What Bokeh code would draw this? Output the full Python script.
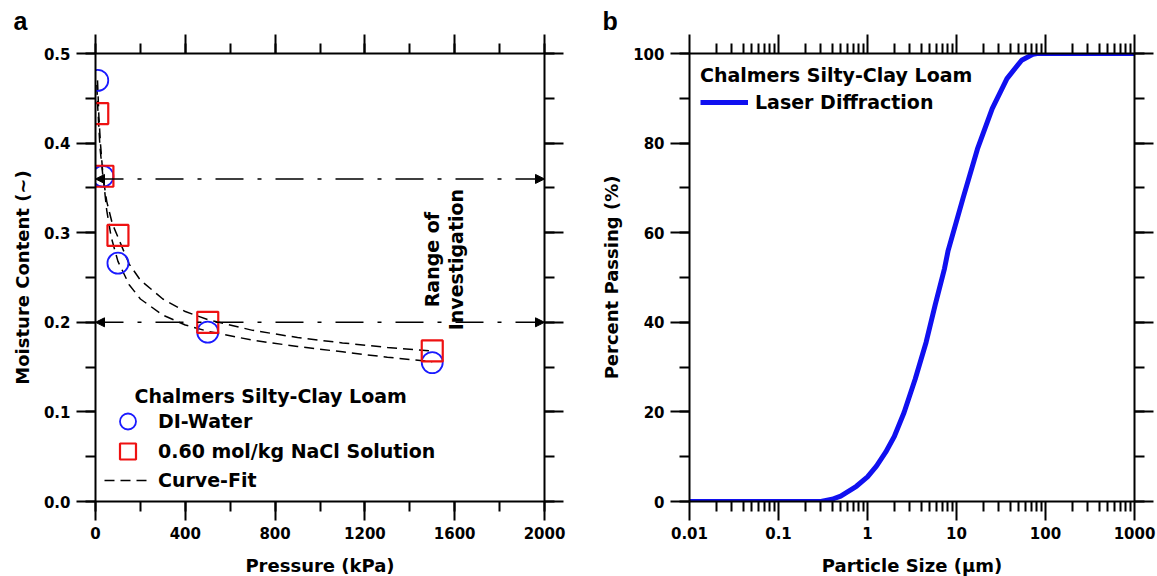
import numpy as np
from bokeh.plotting import figure
from bokeh.layouts import row
from bokeh.models import (Range1d, LinearAxis, LogAxis, SingleIntervalTicker, FixedTicker,
                          PrintfTickFormatter, CustomJSTickFormatter, Legend, LegendItem,
                          Label, Arrow, NormalHead, Grid)
from bokeh.embed import file_html
from bokeh.resources import INLINE

FONT = "DejaVu Sans"

# ---------------- data: panel a ----------------
pressure_kpa = [10, 33, 100, 500, 1500]
di_water = [0.470, 0.363, 0.266, 0.189, 0.155]
nacl_solution = [0.433, 0.363, 0.297, 0.200, 0.168]

fit_di_p = [9, 15, 22, 33, 50, 70, 100, 150, 200, 300, 400, 500, 700, 900, 1100, 1300, 1500]
fit_di_theta = [0.470, 0.430, 0.400, 0.365, 0.325, 0.295, 0.268, 0.242, 0.226, 0.208, 0.197,
                0.190, 0.180, 0.173, 0.167, 0.161, 0.156]
fit_nacl_p = [6, 10, 20, 33, 50, 75, 100, 150, 200, 300, 400, 500, 700, 900, 1100, 1300, 1500]
fit_nacl_theta = [0.465, 0.440, 0.395, 0.363, 0.335, 0.310, 0.295, 0.265, 0.247, 0.226, 0.212,
                  0.203, 0.191, 0.183, 0.177, 0.172, 0.168]

range_bounds = [0.20, 0.36]
pressure_limits = [0, 2000]

# ---------------- data: panel b ----------------
particle_size_um = [0.01, 0.05, 0.1, 0.2, 0.3, 0.4, 0.5, 0.75, 1.0, 1.26, 1.6, 2.0, 2.57, 3.43,
                    4.55, 5.78, 7.33, 8.05, 11.8, 17.2, 25.2, 36.9, 54, 72, 80, 200, 1000]
percent_passing = [0, 0, 0, 0, 0, 0.5, 1.2, 3.4, 5.5, 7.9, 11, 14.5, 19.8, 27.3,
                   35.5, 44, 52, 56, 67.6, 78.7, 87.7, 94.4, 98.5, 99.8, 100, 100, 100]

log_major = [0.01, 0.1, 1, 10, 100, 1000]
log_minor = [m * d for d in log_major[:-1] for m in range(2, 10)]


def style_axis(ax, labels=True):
    ax.axis_line_width = 2
    ax.axis_line_color = "black"
    ax.major_tick_line_width = 2
    ax.minor_tick_line_width = 2
    ax.major_tick_line_color = "black"
    ax.minor_tick_line_color = "black"
    ax.major_tick_out = 19
    ax.major_tick_in = 0
    ax.minor_tick_out = 10
    ax.minor_tick_in = 0
    ax.major_label_text_font = FONT
    ax.major_label_text_font_style = "bold"
    ax.major_label_text_font_size = "15px"
    ax.major_label_text_color = "black"
    ax.axis_label_text_font = FONT
    ax.axis_label_text_font_style = "bold"
    ax.axis_label_text_font_size = "18px"
    ax.axis_label_text_color = "black"
    if not labels:
        ax.formatter = CustomJSTickFormatter(code="return ''")
        ax.major_label_standoff = 0
        ax.major_label_text_font_size = "0px"


def hide_grids(p):
    for r in list(p.center):
        if isinstance(r, Grid):
            r.visible = False


def legend_style(**kw):
    base = dict(padding=0, margin=0, border_line_color=None, background_fill_alpha=0,
                label_text_font=FONT, label_text_font_style="bold", label_text_font_size="19px",
                label_text_color="black")
    base.update(kw)
    return base


def panel_title(p, letter, offset):
    p.title.text = letter
    p.title.text_font = "Liberation Sans"
    p.title.text_font_style = "bold"
    p.title.text_font_size = "25px"
    p.title.text_color = "black"
    p.title.align = "left"
    p.title.offset = offset
    p.title.standoff = 0


# ================= panel a =================
p1 = figure(frame_width=449, frame_height=448, min_border_left=95, min_border_right=36,
            min_border_top=53, min_border_bottom=75,
            x_range=Range1d(*pressure_limits), y_range=Range1d(0, 0.5),
            x_axis_location=None, y_axis_location=None,
            output_backend="svg", toolbar_location=None)
p1.outline_line_color = None
p1.background_fill_color = "white"
hide_grids(p1)
panel_title(p1, "a", -82)

xt = lambda: SingleIntervalTicker(interval=400, num_minor_ticks=2)
yt = lambda: SingleIntervalTicker(interval=0.1, num_minor_ticks=2)

ax_b = LinearAxis(ticker=xt(), axis_label="Pressure (kPa)")
style_axis(ax_b)
ax_b.major_label_standoff = 6
ax_b.axis_label_standoff = 13
p1.add_layout(ax_b, "below")

ax_l = LinearAxis(ticker=yt(), formatter=PrintfTickFormatter(format="%.1f"),
                  axis_label="Moisture Content (~)")
style_axis(ax_l)
ax_l.major_label_standoff = 6
ax_l.axis_label_standoff = 8
p1.add_layout(ax_l, "left")

ax_t = LinearAxis(ticker=xt())
style_axis(ax_t, labels=False)
p1.add_layout(ax_t, "above")
ax_r = LinearAxis(ticker=yt())
style_axis(ax_r, labels=False)
p1.add_layout(ax_r, "right")

# range arrows
for yb in range_bounds:
    p1.add_layout(Arrow(x_start=pressure_limits[0], y_start=yb, x_end=pressure_limits[1], y_end=yb,
                        line_width=1.5, line_color="black", line_dash="28 14 4 14",
                        start=NormalHead(size=9, fill_color="black", line_color="black", line_width=1),
                        end=NormalHead(size=9, fill_color="black", line_color="black", line_width=1)))

r_fit1 = p1.line(fit_di_p, fit_di_theta, line_color="black", line_width=1.5, line_dash="10 6")
r_fit2 = p1.line(fit_nacl_p, fit_nacl_theta, line_color="black", line_width=1.5, line_dash="10 6")
r_circ = p1.scatter(pressure_kpa, di_water, marker="circle", size=21, fill_color=None,
                    line_color="#1a1aff", line_width=1.8)
r_sq = p1.scatter(pressure_kpa, nacl_solution, marker="square", size=21, fill_color=None,
                  line_color="#ee1111", line_width=2.2)

p1.add_layout(Label(x=1501, y=0.27, text="Range of", angle=np.pi / 2, text_align="center",
                    text_baseline="middle", text_font=FONT, text_font_style="bold",
                    text_font_size="19px", text_color="black"))
p1.add_layout(Label(x=1606, y=0.27, text="Investigation", angle=np.pi / 2, text_align="center",
                    text_baseline="middle", text_font=FONT, text_font_style="bold",
                    text_font_size="19px", text_color="black"))

p1.add_layout(Label(x=174, y=0.118, text="Chalmers Silty-Clay Loam", text_align="left",
                    text_baseline="middle", text_font=FONT, text_font_style="bold",
                    text_font_size="19px", text_color="black"))

leg_items = [("DI-Water", r_circ, 60.5), ("0.60 mol/kg NaCl Solution", r_sq, 30.5),
             ("Curve-Fit", r_fit1, 1.5)]
for lab, rend, vy in leg_items:
    p1.add_layout(Legend(items=[LegendItem(label=lab, renderers=[rend])], location=(9, vy),
                         glyph_width=47, glyph_height=40, label_standoff=7,
                         **legend_style()))

# ================= panel b =================
p2 = figure(frame_width=445, frame_height=448, min_border_left=109, min_border_right=23,
            min_border_top=53, min_border_bottom=75,
            x_axis_type="log", x_range=Range1d(0.01, 1000), y_range=Range1d(0, 100),
            x_axis_location=None, y_axis_location=None,
            output_backend="svg", toolbar_location=None)
p2.outline_line_color = None
hide_grids(p2)
panel_title(p2, "b", -87)

lt = lambda: FixedTicker(ticks=log_major, minor_ticks=log_minor)
pt = lambda: SingleIntervalTicker(interval=20, num_minor_ticks=2)

bx_b = LogAxis(ticker=lt(), formatter=CustomJSTickFormatter(code="return tick.toString()"),
               axis_label="Particle Size (μm)")
style_axis(bx_b)
bx_b.major_label_standoff = 6
bx_b.axis_label_standoff = 13
p2.add_layout(bx_b, "below")

bx_l = LinearAxis(ticker=pt(), axis_label="Percent Passing (%)")
style_axis(bx_l)
bx_l.major_label_standoff = 6
bx_l.axis_label_standoff = 8
p2.add_layout(bx_l, "left")

bx_t = LogAxis(ticker=lt())
style_axis(bx_t, labels=False)
p2.add_layout(bx_t, "above")
bx_r = LinearAxis(ticker=pt())
style_axis(bx_r, labels=False)
p2.add_layout(bx_r, "right")

r_ld = p2.line(particle_size_um, percent_passing, line_color="#1010f0", line_width=5)

leg2 = Legend(items=[LegendItem(label="Laser Diffraction", renderers=[r_ld])],
              title="Chalmers Silty-Clay Loam", location="top_left",
              glyph_width=48, glyph_height=22, label_standoff=7, title_standoff=5,
              title_text_font=FONT, title_text_font_style="bold", title_text_font_size="19px",
              title_text_color="black", **legend_style(margin=11))
p2.add_layout(leg2)

layout = row(p1, p2)
open("out.html", "w").write(file_html(layout, INLINE))
